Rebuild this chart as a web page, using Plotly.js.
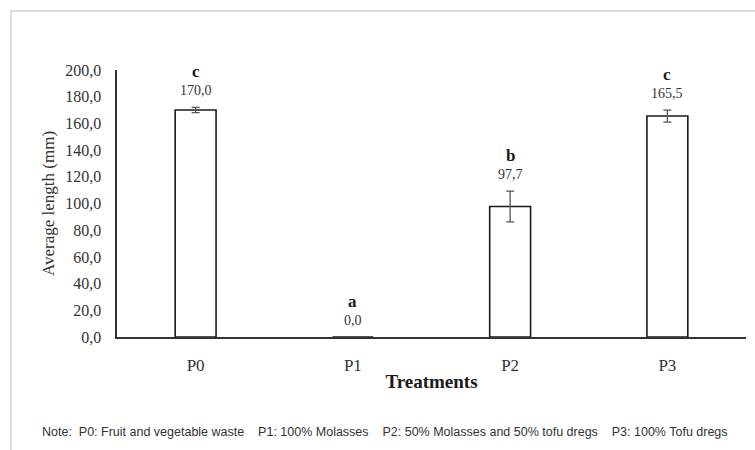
<!DOCTYPE html>
<html>
<head>
<meta charset="utf-8">
<script src="https://cdn.plot.ly/plotly-3.0.1.min.js"></script>
<style>
  html, body { margin: 0; padding: 0; background: #fff; }
  #wrap { position: relative; width: 755px; height: 450px; overflow: hidden; }
  #chart { position: absolute; left: 0; top: 0; width: 755px; height: 450px; }
  #frame { position: absolute; left: 10px; top: 10px; width: 760px; height: 460px;
           border-top: 2px solid #dedede; border-left: 2px solid #dedede; pointer-events: none; }
</style>
</head>
<body>
<div id="wrap">
  <div id="chart"></div>
  <div id="frame"></div>
</div>
<script>
const categories = ["P0", "P1", "P2", "P3"];
const values = [170.0, 0.0, 97.7, 165.5];
const errors = [2.0, 0.0, 11.5, 4.5];
const letters = ["c", "a", "b", "c"];
const valueLabels = ["170,0", "0,0", "97,7", "165,5"];
const yTicks = [0, 20, 40, 60, 80, 100, 120, 140, 160, 180, 200];
const noteText = "Note:  P0: Fruit and vegetable waste    P1: 100% Molasses    P2: 50% Molasses and 50% tofu dregs    P3: 100% Tofu dregs";

const serif = "'Liberation Serif', 'Times New Roman', serif";

const trace = {
  type: "bar",
  x: categories,
  y: values,
  width: 0.26,
  marker: { color: "#ffffff", line: { color: "#1a1a1a", width: 1.6 } },
  error_y: { type: "data", array: errors, visible: true, color: "#555555", thickness: 1.3, width: 4 },
  hoverinfo: "skip"
};

const annotations = [];
categories.forEach((c, i) => {
  annotations.push({
    x: c, y: values[i] + errors[i], xref: "x", yref: "y",
    text: valueLabels[i], showarrow: false, yanchor: "bottom", yshift: 7,
    font: { family: serif, size: 14, color: "#333333" }
  });
  annotations.push({
    x: c, y: values[i] + errors[i], xref: "x", yref: "y",
    text: "<b>" + letters[i] + "</b>", showarrow: false, yanchor: "bottom", yshift: 24,
    font: { family: serif, size: 17, color: "#1a1a1a" }
  });
});
annotations.push({
  x: 0.5, y: 0, xref: "paper", yref: "paper", xanchor: "center", yanchor: "middle",
  yshift: -95, xshift: -47,
  text: noteText, showarrow: false,
  font: { family: "'Liberation Sans Narrow', 'Arial Narrow', sans-serif", size: 12.5, color: "#333333" }
});

const layout = {
  width: 755, height: 450,
  margin: { l: 117, r: 9, t: 70, b: 113 },
  paper_bgcolor: "#ffffff", plot_bgcolor: "#ffffff",
  separators: ",.",
  showlegend: false,
  xaxis: {
    type: "category",
    showgrid: false, zeroline: false,
    showline: true, linecolor: "#333333", linewidth: 1.6,
    ticks: "", ticklabelstandoff: 12,
    tickfont: { family: serif, size: 17, color: "#333333" },
    title: { text: "<b>Treatments</b>", standoff: 0, font: { family: serif, size: 19, color: "#1a1a1a" } }
  },
  yaxis: {
    range: [0, 200],
    tickvals: yTicks,
    tickformat: ".1f",
    showgrid: false, zeroline: false,
    showline: true, linecolor: "#333333", linewidth: 1.6,
    ticks: "", ticklabelstandoff: 11,
    tickfont: { family: serif, size: 16, color: "#333333" },
    title: { text: "Average length (mm)", standoff: 6, font: { family: serif, size: 17, color: "#333333" } }
  },
  annotations: annotations
};

Plotly.newPlot("chart", [trace], layout, { displayModeBar: false, staticPlot: true });
</script>
</body>
</html>
